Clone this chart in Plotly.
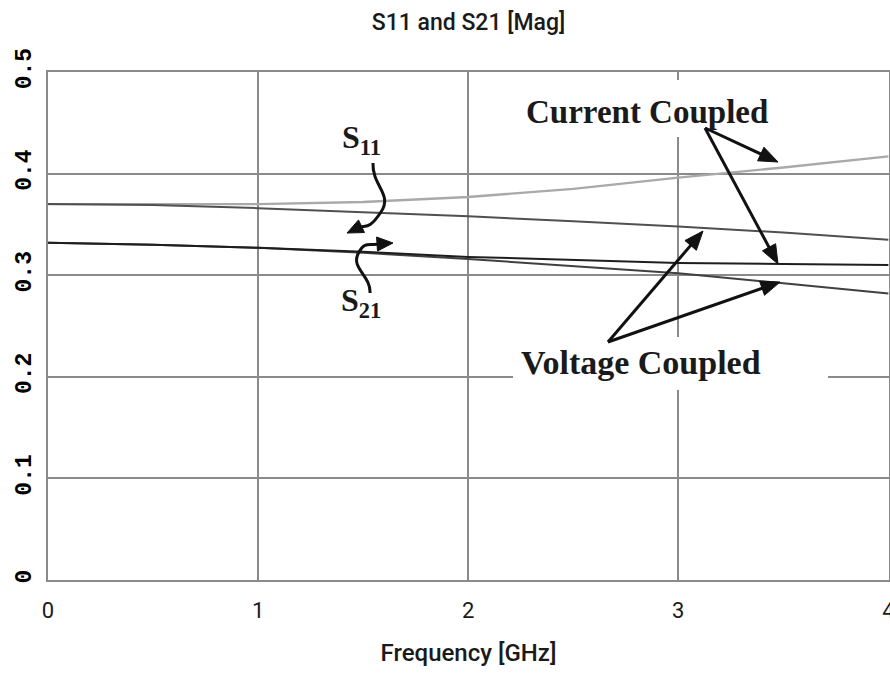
import math
import plotly.graph_objects as go

# ---- data ----
freq = [0, 0.5, 1.0, 1.5, 2.0, 2.5, 3.0, 3.5, 4.0]
s11_current = [0.370, 0.370, 0.370, 0.372, 0.377, 0.385, 0.396, 0.406, 0.417]
s11_voltage = [0.370, 0.369, 0.366, 0.362, 0.358, 0.353, 0.348, 0.342, 0.335]
s21_current = [0.332, 0.330, 0.327, 0.323, 0.318, 0.315, 0.312, 0.311, 0.310]
s21_voltage = [0.332, 0.330, 0.327, 0.322, 0.316, 0.309, 0.302, 0.292, 0.282]
x_ticks = [0, 1, 2, 3, 4]
y_ticks = [0, 0.1, 0.2, 0.3, 0.4, 0.5]
y_tick_text = ["0", "0.1", "0.2", "0.3", "0.4", "0.5"]

W, H = 890, 686
ML, MR, MT, MB = 48, 1, 72, 106
X0, X1, Y0, Y1 = 0, 4.003, 0, 0.5


def fx(px):
    return X0 + (px - ML) / (W - ML - MR) * (X1 - X0)


def fy(py):
    return Y0 + (H - MB - py) / (H - MT - MB) * (Y1 - Y0)


def path(cmds):
    out = []
    for c in cmds:
        if isinstance(c, str):
            out.append(c)
        else:
            out.append(f"{fx(c[0]):.4f},{fy(c[1]):.4f}")
    return " ".join(out)


INK = "#111111"


def head(tip, frm, length=17, half=7):
    dx, dy = tip[0] - frm[0], tip[1] - frm[1]
    n = math.hypot(dx, dy)
    ux, uy = dx / n, dy / n
    bx, by = tip[0] - ux * length, tip[1] - uy * length
    px, py = -uy * half, ux * half
    return dict(type="path", xref="x", yref="y", layer="above",
                path=path(["M", tip, "L", (bx + px, by + py), "L", (bx - px, by - py), "Z"]),
                fillcolor=INK, line=dict(color=INK, width=1))


fig = go.Figure()
fig.add_trace(go.Scatter(x=freq, y=s11_current, mode="lines",
                         line=dict(color="#a9a9a9", width=2.4), name="S11 current"))
fig.add_trace(go.Scatter(x=freq, y=s11_voltage, mode="lines",
                         line=dict(color="#505050", width=2), name="S11 voltage"))
fig.add_trace(go.Scatter(x=freq, y=s21_voltage, mode="lines",
                         line=dict(color="#404040", width=2), name="S21 voltage"))
fig.add_trace(go.Scatter(x=freq, y=s21_current, mode="lines",
                         line=dict(color="#1e1e1e", width=2), name="S21 current"))

shapes = []
# white boxes behind the labels (hide grid, keep curves)
for (a, b, c, d) in [(515, 785, 80, 137), (513, 828, 337, 390)]:
    shapes.append(dict(type="rect", xref="x", yref="y", x0=fx(a), x1=fx(b),
                       y0=fy(d), y1=fy(c), fillcolor="white", line=dict(width=0),
                       layer="between"))
# curly arrows
shapes.append(dict(type="path", xref="x", yref="y", layer="above",
                   path=path(["M", (373, 163), "C", (372, 186), (393, 194), (381, 212),
                              "S", (366, 225), (360, 227)]),
                   line=dict(color=INK, width=3)))
shapes.append(head((347, 233), (362, 226), length=16, half=7))
shapes.append(dict(type="path", xref="x", yref="y", layer="above",
                   path=path(["M", (370, 293), "C", (371, 276), (351, 268), (358, 254),
                              "S", (370, 246), (379, 244)]),
                   line=dict(color=INK, width=3)))
shapes.append(head((393, 243), (377, 244), length=16, half=7))
# straight arrows
for tail, tip in [((705, 128), (778, 162)), ((705, 128), (778, 264)),
                  ((608, 342), (703, 231)), ((608, 342), (780, 282))]:
    dx, dy = tip[0] - tail[0], tip[1] - tail[1]
    n = math.hypot(dx, dy)
    end = (tip[0] - dx / n * 12, tip[1] - dy / n * 12)
    shapes.append(dict(type="line", xref="x", yref="y", layer="above",
                       x0=fx(tail[0]), y0=fy(tail[1]), x1=fx(end[0]), y1=fy(end[1]),
                       line=dict(color=INK, width=3)))
    shapes.append(head(tip, tail, length=19, half=7.5))

serif = "Liberation Serif, Times New Roman, serif"
ann = []
ann.append(dict(x=fx(647), y=fy(112), xref="x", yref="y", text="<b>Current Coupled</b>",
                showarrow=False, font=dict(family=serif, size=33, color="#1a1a1a")))
ann.append(dict(x=fx(641), y=fy(362), xref="x", yref="y", text="<b>Voltage Coupled</b>",
                showarrow=False, font=dict(family=serif, size=34, color="#1a1a1a")))
ann.append(dict(x=fx(361), y=fy(139), xref="x", yref="y", text="<b>S<sub>11</sub></b>",
                showarrow=False, font=dict(family=serif, size=32, color="#1a1a1a")))
ann.append(dict(x=fx(361), y=fy(302), xref="x", yref="y", text="<b>S<sub>21</sub></b>",
                showarrow=False, font=dict(family=serif, size=32, color="#1a1a1a")))

sans = "Roboto, Liberation Sans, sans-serif"
fig.update_layout(
    width=W, height=H,
    margin=dict(l=ML, r=MR, t=MT, b=MB, autoexpand=False),
    paper_bgcolor="white", plot_bgcolor="white",
    showlegend=False, hovermode=False,
    title=dict(text="S11 and S21 [Mag]", x=(ML + (W - ML - MR) / 2) / W, xanchor="center",
               y=1 - 22 / H, yanchor="middle",
               font=dict(family=sans, size=23, color="#1a1a1a", weight=500)),
    shapes=shapes, annotations=ann,
    xaxis=dict(range=[X0, X1], tickvals=x_ticks, ticktext=[str(t) for t in x_ticks],
               automargin=False,
               showgrid=True, gridcolor="#8a8a8a", gridwidth=2,
               showline=True, linecolor="#8a8a8a", linewidth=2, mirror=True,
               zeroline=False, ticks="", ticklabelstandoff=10,
               ticklabeloverflow="allow",
               tickfont=dict(family=sans, size=22, color="#1a1a1a"),
               title=dict(text="Frequency [GHz]", standoff=22,
                          font=dict(family=sans, size=24, color="#1a1a1a", weight=500))),
    yaxis=dict(range=[Y0, Y1], tickvals=y_ticks, ticktext=y_tick_text, tickangle=-90,
               automargin=False,
               showgrid=True, gridcolor="#8a8a8a", gridwidth=2,
               showline=True, linecolor="#8a8a8a", linewidth=2, mirror=True,
               zeroline=False, ticks="", ticklabelstandoff=6,
               tickfont=dict(family="Liberation Mono, Courier New, monospace", size=23,
                             color="#000000", weight="bold")),
)

fig.write_html("out.html")
